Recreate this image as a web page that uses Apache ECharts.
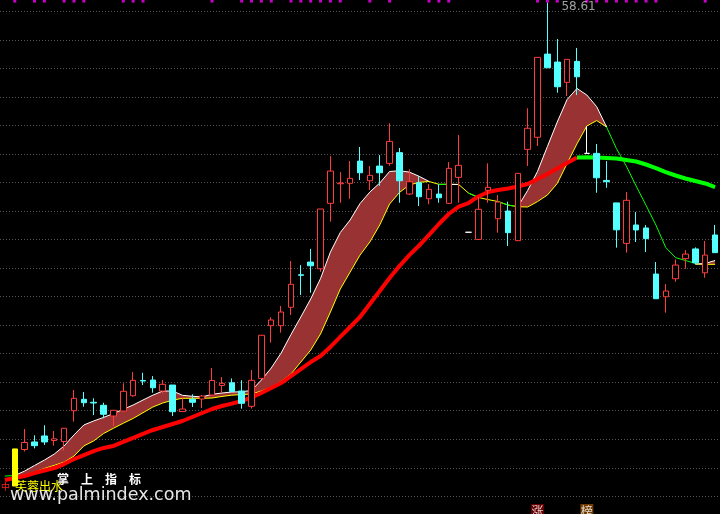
<!DOCTYPE html>
<html><head><meta charset="utf-8">
<script src="https://cdn.jsdelivr.net/npm/echarts/dist/echarts.min.js"></script>
<style>html,body{margin:0;padding:0;background:#000;}#c{width:720px;height:514px;}</style>
</head><body><div id="c"></div>
<script>
// ---- categories (trading days) ----
const days = Array.from({length: 73}, (_, i) => 'D' + (i + 1));

// ---- candles ----
const opens = [
  null, null, 27.28, 27.81, 28.23, 27.91, 27.84, 30.00, 30.80, 30.59,
  30.38, 29.63, 29.98, 31.05, 32.12, 32.15, 31.38, 31.80, 29.94, 30.80,
  30.82, 31.10, 31.77, 31.96, 31.38, 30.31, 32.27, 35.96, 35.96, 37.25,
  39.53, 40.42, 39.95, 44.54, 45.91, 45.94, 47.50, 46.12, 47.15, 47.34,
  48.09, 45.19, 45.98, 44.86, 45.19, 44.54, 46.36, 42.51, 42.01, 45.45,
  43.46, 44.00, 41.92, 48.32, 49.17, 55.00, 54.44, 53.02, 54.49, 48.04,
  48.04, 46.14, 44.57, 41.73, 43.02, 42.81, 39.58, 37.99, 39.25, 40.66,
  41.34, 39.67, 42.32];
const closes = [
  null, null, 27.77, 27.55, 27.81, 28.03, 28.77, 30.87, 30.56, 30.54,
  29.75, 30.03, 31.36, 32.13, 32.08, 31.61, 31.85, 29.93, 30.12, 30.59,
  31.03, 32.12, 31.92, 31.35, 30.52, 32.13, 35.29, 36.36, 36.92, 38.86,
  39.49, 40.16, 44.14, 46.80, 45.96, 46.29, 46.68, 46.50, 46.68, 48.88,
  46.12, 46.05, 45.00, 45.52, 44.93, 46.99, 47.20, 42.51, 44.12, 45.66,
  44.63, 42.48, 46.64, 49.80, 54.77, 54.04, 52.71, 54.63, 53.41, 48.04,
  46.33, 46.05, 42.68, 44.75, 42.67, 42.06, 37.85, 38.39, 40.21, 40.98,
  40.37, 40.91, 41.08];
const lows = [
  null, null, 27.14, 27.36, 27.60, 27.55, 27.20, 29.23, 30.28, 29.70,
  29.47, 28.93, 29.98, 30.98, 31.80, 31.26, 31.22, 29.63, 29.94, 30.26,
  30.19, 31.08, 31.24, 31.35, 30.14, 30.15, 32.26, 34.77, 35.47, 36.71,
  38.11, 38.27, 39.74, 43.25, 44.58, 44.86, 46.17, 45.47, 45.77, 47.17,
  44.58, 45.12, 44.35, 44.47, 44.58, 44.51, 44.58, 42.51, 41.97, 44.58,
  42.48, 41.55, 41.90, 47.15, 48.56, 54.04, 52.29, 52.06, 52.13, 48.04,
  45.28, 45.63, 41.43, 41.08, 41.83, 41.12, 37.85, 36.87, 39.04, 39.95,
  40.28, 39.32, 41.08];
const highs = [
  null, null, 28.72, 28.28, 28.98, 28.58, 28.79, 31.45, 31.31, 30.87,
  30.56, 30.05, 31.92, 32.71, 32.66, 32.43, 32.15, 31.80, 30.96, 31.15,
  31.10, 32.99, 32.36, 32.26, 32.14, 32.85, 35.31, 36.55, 37.34, 40.49,
  40.21, 41.34, 44.14, 47.85, 46.73, 47.50, 48.49, 47.15, 47.92, 50.15,
  48.42, 46.92, 46.45, 45.89, 45.87, 47.43, 49.33, 42.51, 44.98, 47.34,
  45.12, 44.65, 46.64, 51.20, 54.77, 58.61, 56.06, 54.63, 55.43, 49.96,
  48.70, 47.50, 44.57, 45.33, 43.93, 43.02, 40.42, 38.88, 40.61, 41.26,
  41.45, 41.90, 43.02];
const dojiIdx = [47, 59];

// ---- indicator lines ----
const upperLine = [
  null, 25.46, 25.77, 26.16, 26.54, 26.96, 27.53, 28.30, 29.00, 29.28,
  29.53, 29.80, 30.10, 30.40, 30.75, 31.09, 31.38, 31.38, 31.08, 31.01,
  30.97, 31.15, 31.24, 31.31, 31.33, 31.42, 32.15, 32.99, 34.04, 35.34,
  36.57, 37.83, 39.27, 41.12, 42.49, 43.37, 44.52, 45.33, 45.96, 46.77,
  46.82, 46.73, 46.43, 46.07, null, 45.87, 45.86, null, null, null,
  null, null, 44.30, 45.44, 46.78, 48.52, 50.24, 51.82, 52.59, 52.13,
  51.31, 49.89, null, null, null, null, null, null, null, null,
  40.28, 40.32, 40.53];
const lowerLine = [
  null, 25.35, 25.49, 25.70, 25.95, 26.17, 26.40, 26.82, 27.53, 27.88,
  28.40, 28.77, 29.12, 29.46, 29.86, 30.26, 30.54, 30.74, 30.87, 30.87,
  30.87, 30.89, 31.00, 31.09, 31.13, 31.17, 31.38, 31.66, 32.05, 32.57,
  33.41, 34.25, 35.38, 36.92, 38.53, 39.72, 40.91, 41.83, 43.02, 44.49,
  45.30, 45.82, 46.01, 46.07, 45.87, 45.87, 45.86, 45.26, 44.95, 44.80,
  44.66, 44.42, 44.30, 44.28, 44.66, 45.12, 45.93, 47.33, 48.71, 49.96,
  50.34, 49.89, null, null, null, null, null, null, null, null,
  40.28, 40.26, 40.26];
const fallLine = [
  25.42, 25.46, null, null, null, null, null, null, null, null,
  null, null, null, null, null, null, null, null, null, null,
  null, null, null, null, null, null, null, null, null, null,
  null, null, null, null, null, null, null, null, null, null,
  null, null, null, null, 45.87, 45.87, null, 45.26, 44.95, null,
  44.66, 44.42, 44.30, null, null, null, null, null, null, null,
  null, 49.89, 48.37, 47.15, 45.75, 44.40, 43.02, 41.44, 40.73, 40.53,
  40.33, null, null];
const maLine = [
  25.14, 25.28, 25.42, 25.63, 25.81, 25.98, 26.26, 26.61, 26.89, 27.17,
  27.39, 27.53, 27.81, 28.09, 28.37, 28.65, 28.86, 29.07, 29.28, 29.56,
  29.84, 30.12, 30.33, 30.50, 30.68, 30.93, 31.24, 31.59, 31.94, 32.43,
  32.92, 33.41, 33.83, 34.47, 35.17, 35.87, 36.57, 37.48, 38.39, 39.30,
  40.14, 40.91, 41.58, 42.32, 43.09, 43.79, 44.31, 44.56, 45.02, 45.33,
  45.47, 45.58, 45.72, 45.89, 46.24, 46.59, 46.98, 47.36, 47.75, 47.76,
  47.75, 47.71, 47.68, 47.57, 47.47, 47.26, 47.01, 46.73, 46.49, 46.28,
  46.10, 45.93, 45.68];
const maTurnIdx = 58;

// ---- signal marks ----
const signalBarIdx = 1;
const signalBar = [24.72, 27.32];           // bottom, top
const dotIdx = [1, 3, 4, 6, 7, 8, 12, 13, 14, 21, 24, 25, 26, 27, 29, 30, 31, 32, 33, 34,
                37, 39, 43, 44, 45, 54, 55, 56, 59, 60, 61, 62, 63, 64, 65, 66, 71];
const dotLevel = 58.72;
const peakIdx = 55;
const peakValue = 58.61;
const tagIdx = [54, 59];
const tagText = ['涨', '榜'];
const tagColor = ['#800000', '#8c4a00'];
const tagLevel = 22.97;

// ---- build ----
const candleData = opens.map((o, i) => {
  if (o == null) return [NaN, NaN, NaN, NaN];
  const item = { value: [o, closes[i], lows[i], highs[i]] };
  if (dojiIdx.includes(i)) item.itemStyle = { color: '#ffffff', color0: '#ffffff', borderColor: '#ffffff', borderColor0: '#ffffff' };
  return item;
});
const bandDiff = lowerLine.map((lo, i) => lo == null ? null : (upperLine[i] == null ? 0 : +(upperLine[i] - lo).toFixed(2)));
const maRed = maLine.map((v, i) => i <= maTurnIdx ? v : null);
const maGreen = maLine.map((v, i) => i >= maTurnIdx ? v : null);
const sigData = days.map((d, i) => i === signalBarIdx ? [signalBar[0], signalBar[1], signalBar[0], signalBar[1]] : [NaN, NaN, NaN, NaN]);

const chart = echarts.init(document.getElementById('c'), null, { renderer: 'canvas' });
const thin = (name, data, color, z) => ({
  name, type: 'line', data, z, symbol: 'none', showSymbol: false, connectNulls: false,
  lineStyle: { color, width: 1 }, itemStyle: { color }, silent: true, clip: false
});
chart.setOption({
  backgroundColor: '#000000',
  animation: false,
  grid: { left: 0, right: 0, top: 11.3, bottom: 17.7, containLabel: false },
  xAxis: {
    type: 'category', data: days, boundaryGap: true,
    axisLine: { show: false }, axisTick: { show: false }, axisLabel: { show: false }, splitLine: { show: false }
  },
  yAxis: {
    type: 'value', min: 24, max: 58, interval: 2, scale: false,
    axisLine: { show: false }, axisTick: { show: false }, axisLabel: { show: false },
    splitLine: { show: true, lineStyle: { color: '#555555', width: 1, type: [1, 2] } }
  },
  series: [
    { name: 'bandBase', type: 'line', stack: 'band', data: lowerLine, z: 1, symbol: 'none', showSymbol: false,
      lineStyle: { width: 0, opacity: 0 }, silent: true },
    { name: 'band', type: 'line', stack: 'band', data: bandDiff, z: 1, symbol: 'none', showSymbol: false,
      lineStyle: { width: 0, opacity: 0 }, areaStyle: { color: '#993333', opacity: 1 }, silent: true },
    thin('lower', lowerLine, '#ffff00', 2),
    thin('upper', upperLine, '#ffffff', 2),
    thin('fall', fallLine, '#00ff00', 2),
    { name: 'maRed', type: 'line', data: maRed, z: 3, symbol: 'none', showSymbol: false,
      lineStyle: { color: '#ff0000', width: 4, join: 'round' }, silent: true },
    { name: 'maGreen', type: 'line', data: maGreen, z: 3, symbol: 'none', showSymbol: false,
      lineStyle: { color: '#00ff00', width: 4, join: 'round' }, silent: true },
    { name: 'K', type: 'candlestick', data: candleData, z: 5, barWidth: 6, clip: false, silent: true,
      itemStyle: { color: '#000000', color0: '#54ffff', borderColor: '#ff3c3c', borderColor0: '#54ffff', borderWidth: 1 } },
    { name: 'signal', type: 'candlestick', data: sigData, z: 6, barWidth: 6, clip: false, silent: true,
      itemStyle: { color: '#ffff00', color0: '#ffff00', borderColor: '#ffff00', borderColor0: '#ffff00', borderWidth: 1 } },
    { name: 'dots', type: 'scatter', data: dotIdx.map(i => [i, dotLevel]), symbol: 'rect', symbolSize: [3, 3],
      itemStyle: { color: '#ff00ff' }, z: 7, clip: false, silent: true },
    { name: 'peak', type: 'scatter', data: [[peakIdx, peakValue]], symbolSize: 0, z: 7, clip: false, silent: true,
      label: { show: true, position: 'right', distance: 14, offset: [0, 4], formatter: p => p.value[1].toFixed(2),
        color: '#c8c8c8', fontSize: 12, fontFamily: 'DejaVu Sans' } },
    { name: 'tags', type: 'scatter', z: 7, clip: false, silent: true, symbol: 'rect', symbolSize: [13, 14],
      data: tagIdx.map((i, k) => ({ value: [i, tagLevel], name: tagText[k], itemStyle: { color: tagColor[k] } })),
      label: { show: true, position: 'inside', formatter: p => p.name, color: '#ffffff', fontSize: 12,
        fontFamily: 'Noto Sans CJK SC' } }
  ],
  graphic: [
    { type: 'text', x: 1, y: 487, z: 100, style: { text: '中', fill: '#ff2020', font: '9px "Noto Sans CJK SC"', verticalAlign: 'middle', textVerticalAlign: 'middle' } },
    { type: 'text', x: 15, y: 486, z: 100, style: { text: '芙蓉出水', fill: '#ffff00', font: '12px "Noto Sans CJK SC"', verticalAlign: 'middle', textVerticalAlign: 'middle' } },
    { type: 'text', x: 57, y: 479, z: 100, style: { text: '掌　上　指　标', fill: '#ffffff', font: 'bold 12px "Noto Sans CJK SC"', verticalAlign: 'middle', textVerticalAlign: 'middle' } },
    { type: 'text', x: 10, y: 495, z: 101, style: { text: 'www.palmindex.com', fill: '#e6e6e6', font: '17.5px "DejaVu Sans"', verticalAlign: 'middle', textVerticalAlign: 'middle' } }
  ]
});
</script>
</body></html>
